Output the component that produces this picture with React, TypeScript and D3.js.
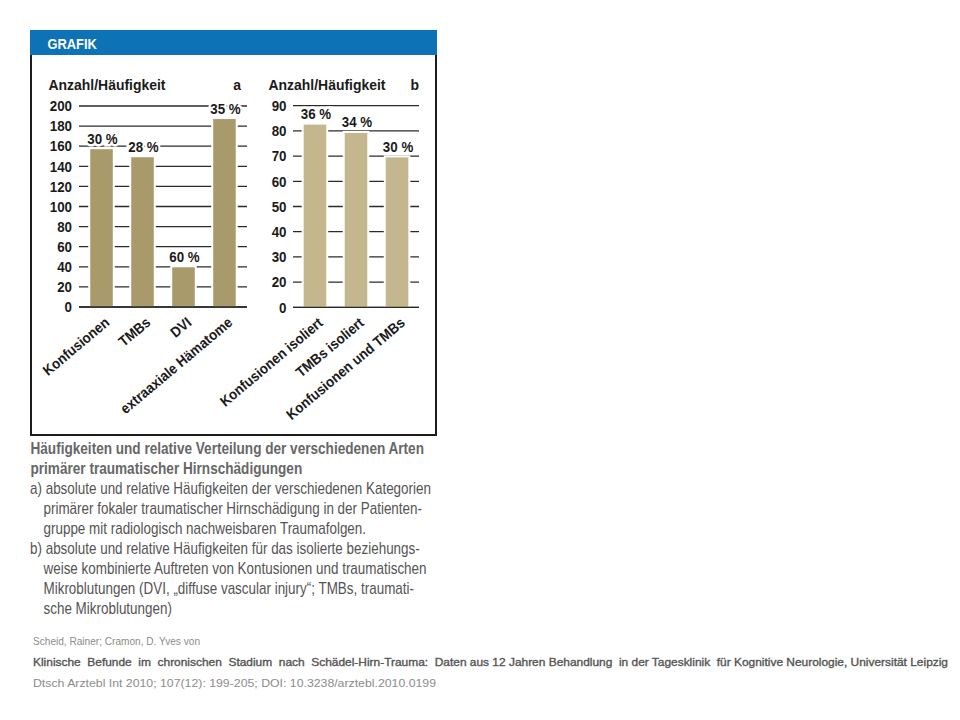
import React from "react";
import * as d3 from "d3";

const catsA = ["Konfusionen", "TMBs", "DVI", "extraaxiale Hämatome"];
const valsA = [157, 149, 39.5, 187];
const pctA = ["30 %", "28 %", "60 %", "35 %"];
const ticksA = [0, 20, 40, 60, 80, 100, 120, 140, 160, 180, 200];

const catsB = ["Konfusionen isoliert", "TMBs isoliert", "Konfusionen und TMBs"];
const valsB = [82.5, 79.2, 69.5];
const pctB = ["36 %", "34 %", "30 %"];
const ticksB = [0, 20, 30, 40, 50, 60, 70, 80, 90];

const captionTitle = [
  "Häufigkeiten und relative Verteilung der verschiedenen Arten",
  "primärer traumatischer Hirnschädigungen",
];
const captionBody = [
  "a) absolute und relative Häufigkeiten der verschiedenen Kategorien",
  "primärer fokaler traumatischer Hirnschädigung in der Patienten-",
  "gruppe mit radiologisch nachweisbaren Traumafolgen.",
  "b) absolute und relative Häufigkeiten für das isolierte beziehungs-",
  "weise kombinierte Auftreten von Kontusionen und traumatischen",
  "Mikroblutungen (DVI, „diffuse vascular injury“; TMBs, traumati-",
  "sche Mikroblutungen)",
];
const footer = [
  "Scheid, Rainer; Cramon, D. Yves von",
  "Klinische  Befunde  im  chronischen  Stadium  nach  Schädel-Hirn-Trauma:  Daten aus 12 Jahren Behandlung  in der Tagesklinik  für Kognitive Neurologie, Universität Leipzig",
  "Dtsch Arztebl Int 2010; 107(12): 199-205; DOI: 10.3238/arztebl.2010.0199",
];

const FONT = "'Liberation Sans', Arial, sans-serif";

type CTProps = {
  x: number;
  y: number;
  sx: number;
  rot?: number;
  children: React.ReactNode;
  [k: string]: any;
};

function CT({ x, y, sx, rot, children, ...rest }: CTProps) {
  const t = `translate(${x},${y})${rot ? ` rotate(${rot})` : ""} scale(${sx},1)`;
  return (
    <text transform={t} fontFamily={FONT} {...rest}>
      {children}
    </text>
  );
}

type PanelProps = {
  cats: string[];
  vals: number[];
  pcts: string[];
  ticks: number[];
  y: d3.ScaleLinear<number, number>;
  x: d3.ScaleBand<string>;
  x0: number;
  x1: number;
  labelX: number;
  color: string;
};

function Panel({ cats, vals, pcts, ticks, y, x, x0, x1, labelX, color }: PanelProps) {
  const bw = x.bandwidth();
  const base = y(0);
  return (
    <g>
      {ticks.map((t) => (
        <g key={t}>
          <line x1={x0} x2={x1} y1={y(t)} y2={y(t)} stroke="#2a2a2a" strokeWidth={1.3} />
          <CT
            x={labelX}
            y={y(t) + 5.2}
            sx={0.92}
            textAnchor="end"
            fontWeight="bold"
            fontSize={14.5}
            fill="#1a1a1a"
          >
            {t}
          </CT>
        </g>
      ))}
      {cats.map((c, i) => (
        <rect
          key={"pad" + c}
          x={(x(c) as number) - 2}
          y={y(vals[i]) - 2}
          width={bw + 4}
          height={base - y(vals[i]) + 1}
          fill="#fff"
        />
      ))}
      {cats.map((c, i) => (
        <rect
          key={"bar" + c}
          x={x(c) as number}
          y={y(vals[i])}
          width={bw}
          height={base - y(vals[i])}
          fill={color}
        />
      ))}
      <line x1={x0} x2={x1} y1={base} y2={base} stroke="#2a2a2a" strokeWidth={1.3} />
      {cats.map((c, i) => (
        <CT
          key={"pct" + c}
          x={(x(c) as number) + bw / 2 + 1}
          y={y(vals[i]) - 5.5}
          sx={0.86}
          textAnchor="middle"
          fontWeight="bold"
          fontSize={15.5}
          fill="#1a1a1a"
          stroke="#fff"
          strokeWidth={5}
          style={{ paintOrder: "stroke" }}
        >
          {pcts[i]}
        </CT>
      ))}
      {cats.map((c) => {
        const cx = (x(c) as number) + bw / 2 + 9;
        const cy = base + 17;
        return (
          <CT
            key={"cat" + c}
            x={cx}
            y={cy}
            rot={-40}
            sx={0.92}
            textAnchor="end"
            fontWeight="bold"
            fontSize={14.5}
            fill="#1a1a1a"
          >
            {c}
          </CT>
        );
      })}
    </g>
  );
}

export default function App() {
  const yA = d3.scaleLinear().domain([0, 200]).range([307, 106]);
  const xA = d3
    .scaleBand<string>()
    .domain(catsA)
    .range([80, 246])
    .paddingInner(0.45)
    .paddingOuter(0.25);

  const yB = d3.scaleLinear().domain([0, 20, 90]).range([307.3, 282.1, 105.7]);
  const xB = d3
    .scaleBand<string>()
    .domain(catsB)
    .range([293, 419])
    .paddingInner(0.45)
    .paddingOuter(0.26);

  const captionBodyX = [30, 43.5, 43.5, 30, 43.5, 43.5, 43.5];
  const footerW = [167, 915, 403];

  return (
    <svg
      width={960}
      height={720}
      style={{ position: "absolute", left: 0, top: 0, display: "block", background: "#fff" }}
    >
      <rect x={0} y={0} width={960} height={720} fill="#fff" />
      <rect x={31} y={50} width={405} height={385} fill="none" stroke="#1c1c1c" strokeWidth={2} />
      <rect x={30} y={30} width={407} height={25} fill="#0d72b6" />
      <CT x={47.5} y={48.5} sx={0.86} fontWeight="bold" fontSize={15} fill="#fff">
        GRAFIK
      </CT>

      <CT x={48.5} y={90} sx={0.9} fontWeight="bold" fontSize={15.5} fill="#1a1a1a">
        Anzahl/Häufigkeit
      </CT>
      <CT x={241} y={90} sx={0.9} textAnchor="end" fontWeight="bold" fontSize={15.5} fill="#1a1a1a">
        a
      </CT>
      <CT x={268.5} y={90} sx={0.9} fontWeight="bold" fontSize={15.5} fill="#1a1a1a">
        Anzahl/Häufigkeit
      </CT>
      <CT x={419} y={90} sx={0.9} textAnchor="end" fontWeight="bold" fontSize={15.5} fill="#1a1a1a">
        b
      </CT>

      <Panel cats={catsA} vals={valsA} pcts={pctA} ticks={ticksA} y={yA} x={xA} x0={79} x1={247} labelX={72} color="#a99a6b" />
      <Panel cats={catsB} vals={valsB} pcts={pctB} ticks={ticksB} y={yB} x={xB} x0={293} x1={419} labelX={286.5} color="#c4b68d" />

      {captionTitle.map((t, i) => (
        <CT key={t} x={30.5} y={454 + i * 20} sx={0.85} fontWeight="bold" fontSize={16} fill="#676767">
          {t}
        </CT>
      ))}
      {captionBody.map((t, i) => (
        <CT key={t} x={captionBodyX[i]} y={494 + i * 20} sx={0.84} fontSize={16} fill="#545454">
          {t}
        </CT>
      ))}
      {footer.map((t, i) => (
        <text
          key={t}
          x={33}
          y={645 + i * 21}
          fontFamily={FONT}
          fontSize={11}
          fill={i === 1 ? "#555" : "#8c8c8c"}
          stroke={i === 1 ? "#555" : "none"}
          strokeWidth={i === 1 ? 0.35 : 0}
          textLength={footerW[i]}
          lengthAdjust="spacingAndGlyphs"
          style={{ whiteSpace: "pre" }}
        >
          {t}
        </text>
      ))}
    </svg>
  );
}
